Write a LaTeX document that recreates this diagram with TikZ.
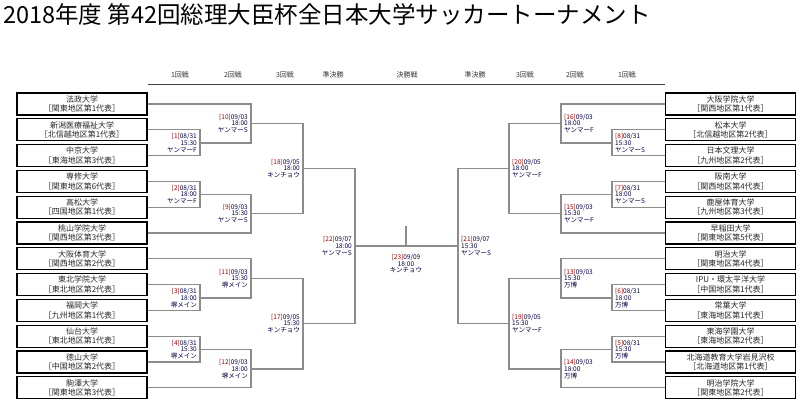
\documentclass[tikz,border=0pt]{standalone}
\usepackage{fontspec}
\setmainfont{Noto Sans CJK JP}
\begin{document}
\begin{tikzpicture}[x=1pt,y=-1pt,
  team/.style={draw=black,line width=1.1pt,minimum width=130pt,minimum height=22pt,inner sep=0pt,align=center,font=\fontsize{8}{9.5}\selectfont,text=black!85},
  br/.style={draw=black!45,line width=1.2pt},
  lab/.style={font=\fontsize{6.5}{6.8}\selectfont,text=black!75!blue,inner sep=0pt},
  labl/.style={lab,anchor=east,align=right},
  labr/.style={lab,anchor=west,align=left},
  hd/.style={font=\fontsize{7}{8}\selectfont,text=black!80}]
\useasboundingbox (0,0) rectangle (800,408);
\node[anchor=west,font=\fontsize{23.5}{25}\selectfont,inner sep=0pt] (title) at (3,15) {2018年度 第42回総理大臣杯全日本大学サッカートーナメント};
% headers
\foreach \x/\t [count=\i] in {180/1回戦,233/2回戦,285/3回戦,333/準決勝,407/決勝戦,475/準決勝,525/3回戦,575/2回戦,627/1回戦}
  \node[hd] (h\i) at (\x,75) {\t};
\coordinate (hl) at (148,84); \coordinate (hr) at (665,84);
\draw[black!75,line width=1pt] (hl) -- (hr);
% teams
\foreach \n/\a/\b [count=\i] in {
 法政大学/関東地区第1代表, 新潟医療福祉大学/北信越地区第1代表, 中京大学/東海地区第3代表,
 専修大学/関東地区第6代表, 高松大学/四国地区第1代表, 桃山学院大学/関西地区第3代表,
 大阪体育大学/関西地区第2代表, 東北学院大学/東北地区第2代表, 福岡大学/九州地区第1代表,
 仙台大学/東北地区第1代表, 徳山大学/中国地区第2代表, 駒澤大学/関東地区第3代表}
 \node[team] (L\i) at (82,{104+(\i-1)*25.8}) {\n\\［\a］};
\foreach \n/\a [count=\i] in {
 大阪学院大学/関西地区第1代表, 松本大学/北信越地区第2代表, 日本文理大学/九州地区第2代表,
 阪南大学/関西地区第4代表, 鹿屋体育大学/九州地区第3代表, 早稲田大学/関東地区第5代表,
 明治大学/関東地区第4代表, IPU・環太平洋大学/中国地区第1代表, 常葉大学/東海地区第1代表,
 東海学園大学/東海地区第2代表, 北海道教育大学岩見沢校/北海道地区第1代表, 明治学院大学/関東地区第2代表}
 \node[team] (R\i) at (730.5,{104+(\i-1)*25.8}) {\n\\［\a］};
% left match points
\coordinate (m1) at (200,143); \coordinate (m2) at (200,194.5);
\coordinate (m3) at (200,298); \coordinate (m4) at (200,349.5);
\coordinate (m10) at (251,123.5); \coordinate (m9) at (251,213.5);
\coordinate (m11) at (251,278.5); \coordinate (m12) at (251,369);
\coordinate (m18) at (303,168.5); \coordinate (m17) at (303,323.5);
\coordinate (m22) at (355,246);
% right match points
\coordinate (m8) at (612,143); \coordinate (m7) at (612,194.5);
\coordinate (m6) at (612,298); \coordinate (m5) at (612,349.5);
\coordinate (m16) at (561,123.5); \coordinate (m15) at (561,213.5);
\coordinate (m13) at (561,278.5); \coordinate (m14) at (561,369);
\coordinate (m20) at (509,168.5); \coordinate (m19) at (509,323.5);
\coordinate (m21) at (458,246);
\coordinate (m23) at (406,246); \coordinate (top) at (406,226);
\coordinate (m23t) at (406,254);
% left brackets
\draw[br] (L2.east) -| (m1) |- (L3.east);
\draw[br] (L4.east) -| (m2) |- (L5.east);
\draw[br] (L8.east) -| (m3) |- (L9.east);
\draw[br] (L10.east) -| (m4) |- (L11.east);
\draw[br] (L1.east) -| (m10) |- (m1);
\draw[br] (m2) -| (m9) |- (L6.east);
\draw[br] (L7.east) -| (m11) |- (m3);
\draw[br] (m4) -| (m12) |- (L12.east);
\draw[br] (m10) -| (m18) |- (m9);
\draw[br] (m11) -| (m17) |- (m12);
\draw[br] (m18) -| (m22) |- (m17);
% right brackets
\draw[br] (R2.west) -| (m8) |- (R3.west);
\draw[br] (R4.west) -| (m7) |- (R5.west);
\draw[br] (R8.west) -| (m6) |- (R9.west);
\draw[br] (R10.west) -| (m5) |- (R11.west);
\draw[br] (R1.west) -| (m16) |- (m8);
\draw[br] (m7) -| (m15) |- (R6.west);
\draw[br] (R7.west) -| (m13) |- (m6);
\draw[br] (m5) -| (m14) |- (R12.west);
\draw[br] (m16) -| (m20) |- (m15);
\draw[br] (m13) -| (m19) |- (m14);
\draw[br] (m20) -| (m21) |- (m19);
% final
\draw[br] (m22) -- (m21);
\draw[br] (m23) -- (top);
% labels
\newcommand{\mlab}[4]{\textcolor{red!55!black}{[#1]}#2\\#3\\#4}
\node[labl] (t1) at ([xshift=-3]m1) {\mlab{1}{08/31}{15:30}{ヤンマーF}};
\node[labl] (t2) at ([xshift=-3]m2) {\mlab{2}{08/31}{18:00}{ヤンマーF}};
\node[labl] (t3) at ([xshift=-3]m3) {\mlab{3}{08/31}{18:00}{堺メイン}};
\node[labl] (t4) at ([xshift=-3]m4) {\mlab{4}{08/31}{15:30}{堺メイン}};
\node[labl] (t10) at ([xshift=-3]m10) {\mlab{10}{09/03}{18:00}{ヤンマーS}};
\node[labl] (t9) at ([xshift=-3]m9) {\mlab{9}{09/03}{15:30}{ヤンマーS}};
\node[labl] (t11) at ([xshift=-3]m11) {\mlab{11}{09/03}{15:30}{堺メイン}};
\node[labl] (t12) at ([xshift=-3]m12) {\mlab{12}{09/03}{18:00}{堺メイン}};
\node[labl] (t18) at ([xshift=-3]m18) {\mlab{18}{09/05}{18:00}{キンチョウ}};
\node[labl] (t17) at ([xshift=-3]m17) {\mlab{17}{09/05}{15:30}{キンチョウ}};
\node[labl] (t22) at ([xshift=-3]m22) {\mlab{22}{09/07}{18:00}{ヤンマーS}};
\node[labr] (t8) at ([xshift=3]m8) {\mlab{8}{08/31}{15:30}{ヤンマーS}};
\node[labr] (t7) at ([xshift=3]m7) {\mlab{7}{08/31}{18:00}{ヤンマーS}};
\node[labr] (t6) at ([xshift=3]m6) {\mlab{6}{08/31}{18:00}{万博}};
\node[labr] (t5) at ([xshift=3]m5) {\mlab{5}{08/31}{15:30}{万博}};
\node[labr] (t16) at ([xshift=3]m16) {\mlab{16}{09/03}{18:00}{ヤンマーF}};
\node[labr] (t15) at ([xshift=3]m15) {\mlab{15}{09/03}{15:30}{ヤンマーF}};
\node[labr] (t13) at ([xshift=3]m13) {\mlab{13}{09/03}{15:30}{万博}};
\node[labr] (t14) at ([xshift=3]m14) {\mlab{14}{09/03}{18:00}{万博}};
\node[labr] (t20) at ([xshift=3]m20) {\mlab{20}{09/05}{18:00}{ヤンマーF}};
\node[labr] (t19) at ([xshift=3]m19) {\mlab{19}{09/05}{15:30}{ヤンマーF}};
\node[labr] (t21) at ([xshift=3]m21) {\mlab{21}{09/07}{15:30}{ヤンマーS}};
\node[lab,align=center,anchor=north] (t23) at (m23t) {\mlab{23}{09/09}{18:00}{キンチョウ}};
\end{tikzpicture}
\end{document}
